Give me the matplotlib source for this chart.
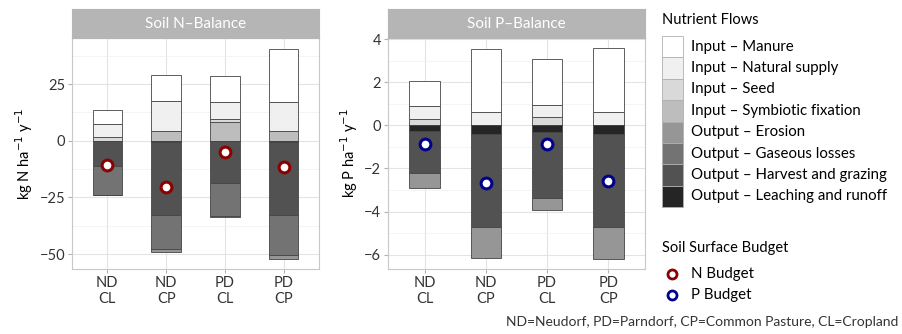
import numpy as np
import matplotlib.pyplot as plt
from matplotlib.patches import Rectangle
from matplotlib.lines import Line2D

plt.rcParams['font.family'] = ['Lato', 'DejaVu Sans']

# categories
sites = ['ND\nCL', 'ND\nCP', 'PD\nCL', 'PD\nCP']

flows = ['Input – Manure', 'Input – Natural supply', 'Input – Seed',
         'Input – Symbiotic fixation', 'Output – Erosion',
         'Output – Gaseous losses', 'Output – Harvest and grazing',
         'Output – Leaching and runoff']
greys = ['#ffffff', '#f0f0f0', '#d9d9d9', '#bdbdbd',
         '#969696', '#737373', '#525252', '#252525']

# N balance (kg N / ha / y), inputs positive, outputs as magnitudes
n_manure = [6.3, 11.5, 11.8, 23.5]
n_natural = [5.9, 13.2, 7.1, 12.8]
n_seed = [1.5, 0.0, 1.7, 0.0]
n_symb = [0.0, 4.4, 8.1, 4.4]
n_erosion = [0.4, 1.2, 0.3, 1.5]
n_gas = [12.8, 15.0, 14.4, 17.6]
n_harvest = [10.6, 32.3, 18.5, 32.3]
n_leach = [0.3, 0.5, 0.3, 0.5]
n_budget = [-10.5, -20.4, -4.8, -11.7]

# P balance (kg P / ha / y)
p_manure = [1.16, 2.93, 2.11, 2.97]
p_natural = [0.60, 0.60, 0.57, 0.60]
p_seed = [0.31, 0.0, 0.39, 0.0]
p_symb = [0.0, 0.0, 0.0, 0.0]
p_erosion = [0.68, 1.48, 0.54, 1.45]
p_gas = [0.0, 0.0, 0.0, 0.0]
p_harvest = [1.97, 4.28, 3.07, 4.31]
p_leach = [0.25, 0.42, 0.32, 0.42]
p_budget = [-0.85, -2.67, -0.87, -2.60]

W, H = 902, 334
fig = plt.figure(figsize=(W / 100, H / 100), dpi=100)


def fx(x):
    return x / W


def fy(y):
    return 1 - y / H


def panel(x0, x1, title, inputs, outputs, budget, bcol, ylabel, yticks, minor):
    ax = fig.add_axes([fx(x0), fy(269), fx(x1 - x0), (269 - 38) / H])
    x = np.arange(1, len(sites) + 1)
    # inputs stacked upwards: symbiotic, seed, natural, manure
    base = np.zeros(len(sites))
    for vals, col in zip(inputs[::-1], greys[3::-1]):
        ax.bar(x, vals, 0.5, bottom=base, color=col, edgecolor='#444444',
               linewidth=0.6, zorder=2)
        base += np.array(vals)
    tops = base.copy()
    # outputs stacked downwards: leaching, harvest, gaseous, erosion
    base = np.zeros(len(sites))
    for vals, col in zip(outputs[::-1], greys[:3:-1]):
        ax.bar(x, -np.array(vals), 0.5, bottom=base, color=col,
               edgecolor='#444444', linewidth=0.6, zorder=2)
        base -= np.array(vals)
    ax.scatter(x, budget, s=60, facecolor='white', edgecolor=bcol,
               linewidth=2.2, zorder=3)
    lo, hi = base.min(), tops.max()
    pad = (hi - lo) * 0.05
    ax.set_ylim(lo - pad, hi + pad)
    ax.set_xlim(0.4, 4.6)
    ax.set_xticks(x)
    ax.set_xticklabels(sites, fontsize=10.5, color='#333333',
                       linespacing=1.15)
    ax.set_yticks(yticks)
    ax.set_yticklabels([str(t).replace('-', '−') for t in yticks],
                       fontsize=10.5, color='#333333')
    ax.set_yticks(minor, minor=True)
    ax.set_xticks(np.arange(1.5, 4, 1), minor=True)
    ax.tick_params(which='major', length=3, color='#b3b3b3', pad=2)
    ax.tick_params(which='minor', length=0)
    ax.grid(which='major', color='#e3e3e3', linewidth=0.8, zorder=0)
    ax.grid(which='minor', axis='y', color='#f0f0f0', linewidth=0.5,
            zorder=0)
    ax.set_axisbelow(True)
    for s in ax.spines.values():
        s.set_color('#c8c8c8')
        s.set_linewidth(0.8)
    ax.set_ylabel(ylabel, fontsize=10.5, labelpad=3)
    # facet strip
    sx = fig.add_axes([fx(x0), fy(38), fx(x1 - x0), (38 - 9) / H])
    sx.set_facecolor('#b5b5b5')
    sx.set_xticks([])
    sx.set_yticks([])
    for s in sx.spines.values():
        s.set_color('#b5b5b5')
    sx.text(0.5, 0.5, title, ha='center', va='center', color='white',
            fontsize=11, transform=sx.transAxes)
    return ax


panel(72, 319, 'Soil N–Balance',
      [n_manure, n_natural, n_seed, n_symb],
      [n_erosion, n_gas, n_harvest, n_leach],
      n_budget, '#8b0000', 'kg N ha$^{-1}$ y$^{-1}$',
      [-50, -25, 0, 25], [-37.5, -12.5, 12.5, 37.5])
panel(388, 645, 'Soil P–Balance',
      [p_manure, p_natural, p_seed, p_symb],
      [p_erosion, p_gas, p_harvest, p_leach],
      p_budget, '#00008b', 'kg P ha$^{-1}$ y$^{-1}$',
      [-6, -4, -2, 0, 2, 4], [-5, -3, -1, 1, 3])

# legend: nutrient flows
fig.text(fx(662), fy(20), 'Nutrient Flows', fontsize=10.5, va='center')
kh = (207 - 36) / 8
for i, (lab, col) in enumerate(zip(flows, greys)):
    top = 36 + i * kh
    fig.add_artist(Rectangle((fx(662), fy(top + kh)), fx(21), kh / H,
                             facecolor=col, edgecolor='#b0b0b0',
                             linewidth=0.6, transform=fig.transFigure))
    fig.text(fx(691), fy(top + kh / 2), lab, fontsize=10.8, va='center')

# legend: soil surface budget
fig.text(fx(662), fy(248), 'Soil Surface Budget', fontsize=10.5,
         va='center')
for yy, lab, col in [(274, 'N Budget', '#8b0000'), (295, 'P Budget', '#00008b')]:
    fig.add_artist(Line2D([fx(672)], [fy(yy)], marker='o', markersize=6.5,
                          markerfacecolor='white', markeredgecolor=col,
                          markeredgewidth=2, transform=fig.transFigure))
    fig.text(fx(691), fy(yy), lab, fontsize=10.8, va='center')

fig.text(fx(898), fy(322), 'ND=Neudorf, PD=Parndorf, CP=Common Pasture, CL=Cropland',
         ha='right', va='center', fontsize=10, color='#333333')

fig.savefig('out.png', dpi=100)
